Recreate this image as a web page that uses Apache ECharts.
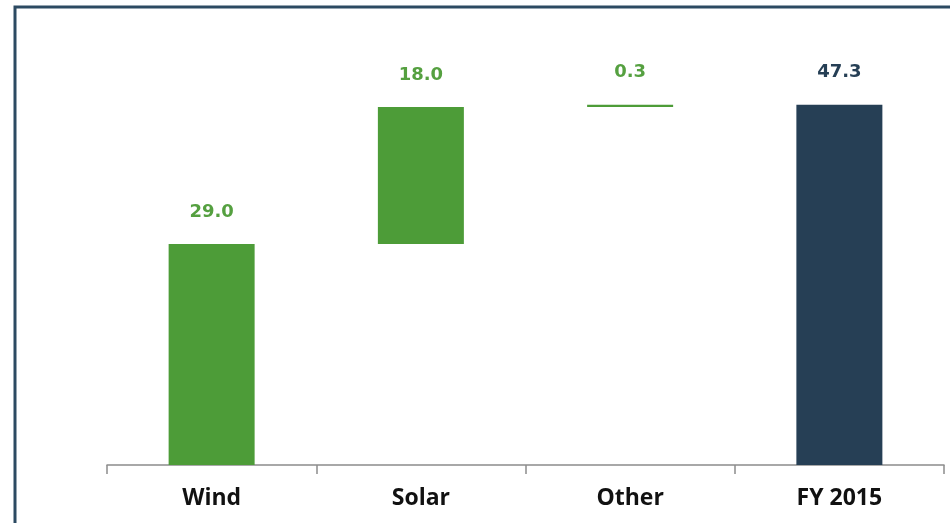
<!DOCTYPE html>
<html>
<head>
<meta charset="utf-8">
<script src="https://cdn.jsdelivr.net/npm/echarts@6/dist/echarts.min.js"></script>
<style>
  html, body { margin: 0; padding: 0; background: #ffffff; }
  #chart { width: 950px; height: 523px; }
</style>
</head>
<body>
<div id="chart"></div>
<script>
// Capacity additions by source, ending in the FY 2015 total
const categories = ['Wind', 'Solar', 'Other', 'FY 2015'];
const values = [29.0, 18.0, 0.3, 47.3];
const isTotal = [false, false, false, true];

const green = '#4d9c38';
const greenText = '#55a040';
const navy = '#263f55';

// Invisible base for each step of the waterfall
const bases = [];
let running = 0;
values.forEach((v, i) => {
  if (isTotal[i]) { bases.push(0); }
  else { bases.push(running); running += v; }
});

const chart = echarts.init(document.getElementById('chart'), null, { renderer: 'canvas' });
chart.setOption({
  animation: false,
  backgroundColor: '#ffffff',
  grid: { left: 107, right: 6, top: 8, bottom: 58 },
  graphic: [{
    type: 'rect',
    shape: { x: 15, y: 7, width: 960, height: 540 },
    style: { fill: 'none', stroke: '#2c4a62', lineWidth: 3 },
    z: 100
  }],
  xAxis: {
    type: 'category',
    data: categories,
    axisLine: { lineStyle: { color: '#8c8c8c', width: 1.5 } },
    axisTick: { show: true, length: 9, lineStyle: { color: '#8c8c8c', width: 1.5 } },
    axisLabel: {
      margin: 22,
      fontFamily: 'Open Sans',
      fontWeight: 'bold',
      fontSize: 23,
      color: '#111111'
    }
  },
  yAxis: {
    type: 'value',
    min: 0,
    max: 60,
    show: false,
    splitLine: { show: false }
  },
  series: [
    {
      type: 'bar',
      stack: 'wf',
      barWidth: 86,
      data: bases,
      itemStyle: { color: 'transparent' },
      silent: true
    },
    {
      type: 'bar',
      stack: 'wf',
      barWidth: 86,
      data: values.map((v, i) => ({
        value: v,
        itemStyle: { color: isTotal[i] ? navy : green },
        label: { color: isTotal[i] ? navy : greenText }
      })),
      label: {
        show: true,
        position: 'top',
        distance: 23,
        fontFamily: 'DejaVu Sans',
        fontWeight: 'bold',
        fontSize: 18,
        formatter: p => p.value.toFixed(1)
      }
    }
  ]
});
</script>
</body>
</html>
